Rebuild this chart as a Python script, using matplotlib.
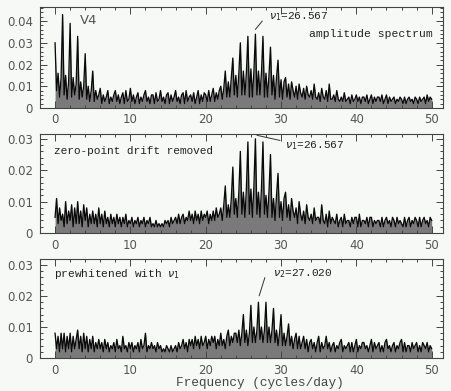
import numpy as np
import matplotlib
matplotlib.use('Agg')
import matplotlib.pyplot as plt
from matplotlib.ticker import MultipleLocator

# Espectros de amplitude da estrela V4 (valores em unidades de 0.001)
# cada linha = um ciclo/dia, amostras em k+0.0, k+0.2, k+0.4, k+0.6, k+0.8

passo = 0.2

amp_espectro = [
    30, 8, 16, 5, 14,   43, 6, 15, 4, 12,   39, 5, 14, 6, 11,   33, 4, 12, 5, 10,
    25, 4, 10, 3, 8,    17, 3, 8, 4, 6,     9, 2, 6, 3, 5,      8, 2, 5, 3, 6,
    8, 3, 6, 2, 5,      7, 2, 8, 3, 4,      9, 3, 6, 2, 5,      7, 2, 5, 3, 6,
    8, 3, 5, 2, 6,      6, 2, 7, 3, 4,      8, 3, 5, 2, 6,      7, 2, 6, 3, 5,
    8, 3, 5, 2, 6,      7, 2, 8, 3, 5,      6, 3, 7, 2, 5,      8, 2, 6, 3, 7,
    6, 3, 8, 3, 6,      9, 3, 7, 4, 8,      10, 4, 9, 17, 5,    12, 5, 14, 23, 6,
    15, 5, 16, 30, 6,   17, 6, 16, 33, 5,   18, 5, 17, 34, 6,   17, 6, 16, 33, 5,
    16, 5, 15, 28, 6,   15, 4, 14, 22, 5,   13, 4, 12, 14, 5,   11, 4, 12, 8, 5,
    10, 4, 11, 7, 5,    9, 4, 10, 6, 5,     8, 4, 11, 5, 4,     7, 3, 9, 5, 4,
    8, 3, 11, 4, 4,     6, 3, 8, 4, 3,      5, 3, 7, 3, 4,      5, 2, 6, 3, 4,
    6, 3, 5, 2, 5,      5, 3, 6, 2, 4,      6, 2, 5, 3, 5,      5, 3, 6, 2, 4,
    6, 2, 5, 3, 4,      5, 2, 4, 3, 5,      4, 2, 5, 2, 4,      5, 3, 4, 2, 5,
    4, 2, 5, 3, 4,      5, 2, 6, 3, 5,      4,
]

amp_drift = [
    5, 11, 3, 8, 4,     6, 2, 10, 3, 7,     4, 9, 2, 8, 3,      10, 3, 7, 2, 9,
    4, 8, 2, 6, 3,      7, 3, 6, 2, 8,      3, 6, 2, 7, 3,      5, 2, 6, 3, 5,
    2, 6, 3, 5, 2,      5, 3, 6, 2, 4,      3, 5, 2, 4, 3,      5, 2, 4, 3, 5,
    2, 4, 3, 5, 2,      3, 2, 4, 2, 3,      2, 3, 2, 4, 3,      4, 2, 5, 3, 4,
    5, 3, 6, 3, 5,      6, 3, 5, 4, 7,      4, 6, 3, 7, 4,      6, 3, 7, 4, 6,
    5, 7, 3, 6, 4,      7, 4, 8, 5, 6,      8, 4, 9, 15, 5,     9, 5, 11, 21, 6,
    11, 5, 13, 26, 6,   13, 5, 14, 29, 6,   14, 5, 15, 30, 6,   13, 5, 14, 29, 6,
    12, 5, 13, 25, 5,   11, 4, 12, 19, 5,   10, 4, 11, 13, 5,   9, 4, 11, 7, 5,
    8, 3, 10, 6, 4,     7, 3, 9, 5, 4,      6, 3, 8, 4, 5,      5, 3, 9, 4, 3,
    6, 2, 7, 3, 5,      4, 3, 6, 2, 4,      5, 2, 6, 3, 4,      4, 2, 5, 3, 5,
    5, 2, 6, 2, 4,      4, 3, 5, 2, 5,      5, 2, 4, 3, 4,      4, 2, 5, 2, 4,
    5, 3, 4, 2, 5,      4, 2, 5, 3, 4,      3, 2, 5, 2, 4,      5, 2, 4, 3, 5,
    4, 2, 5, 2, 4,      5, 3, 4, 2, 5,      4,
]

amp_prewhite = [
    8, 3, 7, 2, 8,      3, 8, 2, 7, 3,      8, 2, 7, 3, 6,      9, 3, 7, 2, 8,
    3, 7, 2, 6, 3,      7, 2, 5, 3, 6,      3, 5, 2, 6, 3,      5, 2, 4, 3, 5,
    2, 6, 3, 4, 2,      7, 3, 4, 2, 5,      3, 5, 2, 4, 3,      5, 2, 6, 3, 4,
    8, 2, 4, 3, 5,      3, 4, 2, 5, 3,      4, 2, 3, 2, 4,      3, 2, 4, 2, 3,
    4, 2, 5, 3, 4,      6, 3, 5, 2, 6,      4, 6, 3, 7, 4,      6, 3, 7, 4, 5,
    7, 3, 6, 4, 7,      5, 7, 3, 6, 4,      8, 4, 6, 3, 7,      9, 4, 7, 5, 8,
    8, 5, 9, 4, 8,      14, 5, 9, 4, 8,     17, 5, 10, 5, 9,    18, 6, 10, 5, 9,
    18, 5, 10, 5, 9,    16, 5, 9, 4, 8,     14, 4, 8, 4, 7,     11, 4, 7, 3, 6,
    8, 3, 7, 3, 5,      7, 3, 6, 2, 5,      6, 3, 5, 2, 5,      7, 2, 5, 3, 4,
    7, 3, 5, 2, 4,      5, 2, 4, 3, 5,      6, 2, 4, 3, 4,      5, 2, 5, 2, 4,
    6, 2, 4, 3, 5,      5, 3, 4, 2, 4,      6, 2, 5, 3, 4,      5, 2, 4, 2, 5,
    6, 3, 4, 2, 4,      5, 2, 4, 3, 5,      6, 2, 5, 2, 4,      4, 2, 5, 3, 4,
    5, 2, 4, 2, 5,      4, 3, 5, 2, 4,      3,
]

freq = np.arange(len(amp_espectro)) * passo

fundo = '#f6f9f6'
fonte_texto = 'Liberation Mono'

fig = plt.figure(figsize=(4.52, 3.91), dpi=100, facecolor=fundo)

paineis = [
    (amp_espectro, [0.0885, 0.724, 0.8915, 0.258], 0.0465, 0.002),
    (amp_drift, [0.0885, 0.404, 0.8915, 0.253], 0.0315, 0.002),
    (amp_prewhite, [0.0885, 0.0844, 0.8915, 0.2536], 0.032, 0.002),
]

eixos = []
for amp, pos, ytopo, ymenor in paineis:
    ax = fig.add_axes(pos, facecolor=fundo)
    y = np.array(amp) * 0.001
    # o espectro original e muito denso: preenchimento cinza por baixo da linha
    ax.fill_between(freq, 0, y, color='#7a7a7a', lw=0)
    ax.plot(freq, y, color='#0a0a0a', lw=0.95)
    ax.set_xlim(-2, 51.5)
    ax.set_ylim(0, ytopo)
    ax.xaxis.set_major_locator(MultipleLocator(10))
    ax.xaxis.set_minor_locator(MultipleLocator(2))
    ax.yaxis.set_major_locator(MultipleLocator(0.01))
    ax.yaxis.set_minor_locator(MultipleLocator(ymenor))
    ax.yaxis.set_major_formatter(plt.FuncFormatter(lambda v, p: '0' if v == 0 else '%.2f' % v))
    ax.tick_params(which='both', direction='in', top=True, right=True,
                   labelsize=8.5, labelcolor='#555555', color='#444444', width=0.7)
    ax.tick_params(which='major', length=5, pad=4)
    ax.tick_params(which='minor', length=2.5)
    ax.tick_params(axis='y', which='major', pad=5)
    for s in ax.spines.values():
        s.set_color('#444444')
        s.set_linewidth(0.8)
    eixos.append(ax)

ax1, ax2, ax3 = eixos

# textos do painel 1
ax1.text(3.3, 0.0405, 'V4', fontsize=9.5, color='#555555', va='center')
ax1.plot([26.6, 27.5], [0.0362, 0.0400], color='#333333', lw=0.7)
ax1.text(28.4, 0.0419, r'$\nu_1$=26.567', family=fonte_texto, fontsize=8, color='#222222', va='center')
ax1.text(50.1, 0.0343, 'amplitude spectrum', family=fonte_texto, fontsize=8.2,
         color='#222222', va='center', ha='right')

# painel 2
ax2.text(-0.1, 0.026, 'zero-point drift removed', family=fonte_texto, fontsize=8,
         color='#222222', va='center')
ax2.plot([26.83, 29.84], [0.0311, 0.0295], color='#333333', lw=0.7, clip_on=False)
ax2.text(30.5, 0.0279, r'$\nu_1$=26.567', family=fonte_texto, fontsize=8, color='#222222', va='center')

# painel 3
ax3.text(-0.1, 0.0271, r'prewhitened with $\nu_1$', family=fonte_texto, fontsize=8,
         color='#222222', va='center')
ax3.plot([27.1, 27.85], [0.0201, 0.0259], color='#333333', lw=0.7)
ax3.text(28.9, 0.0273, r'$\nu_2$=27.020', family=fonte_texto, fontsize=8, color='#222222', va='center')

fig.text(260 / 452, 1 - 383 / 391, 'Frequency (cycles/day)', family=fonte_texto,
         fontsize=9.2, color='#444444', ha='center', va='center')

plt.savefig('out.png', dpi=100, facecolor=fundo)
